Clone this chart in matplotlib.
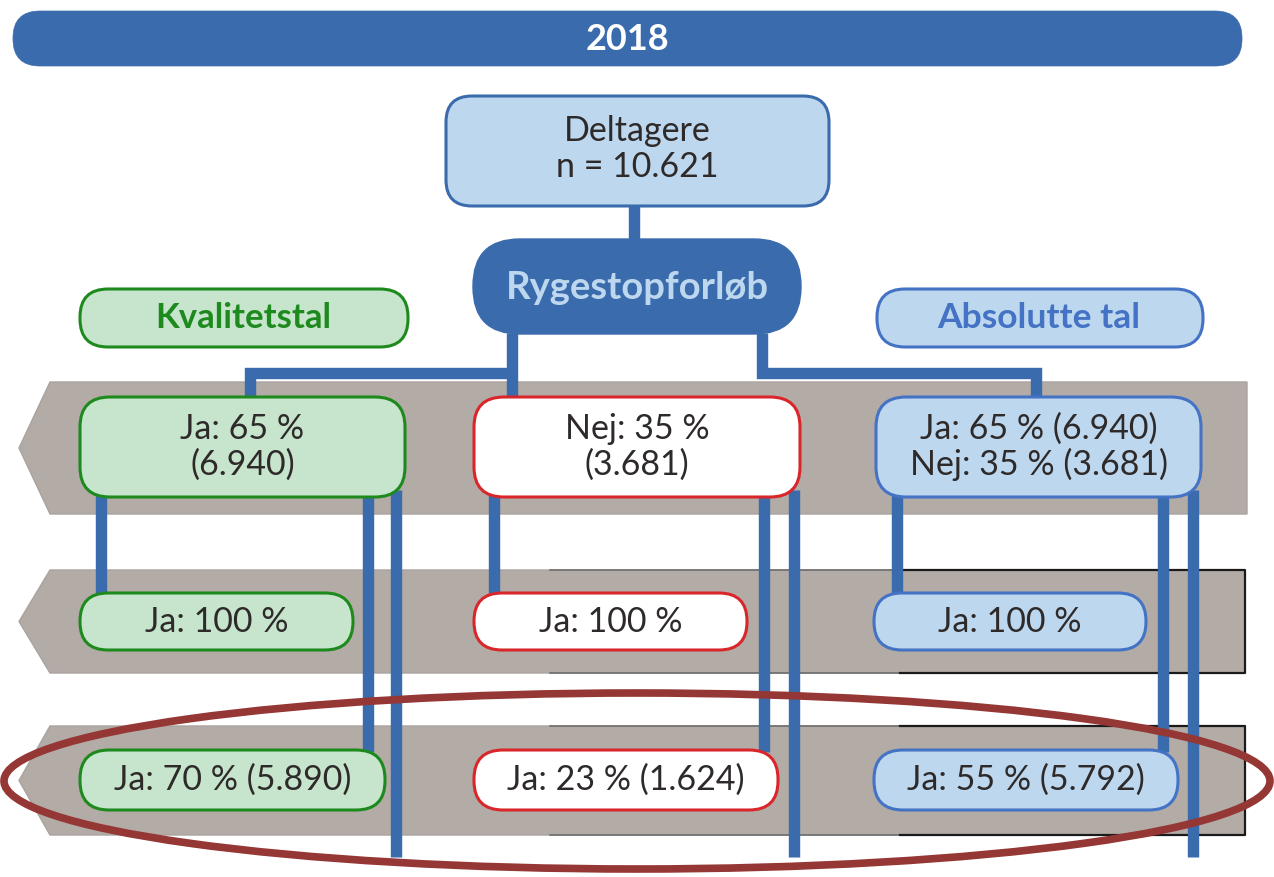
import matplotlib
matplotlib.use("Agg")
import matplotlib.pyplot as plt
from matplotlib.patches import FancyBboxPatch, Polygon, Ellipse

plt.rcParams['font.family'] = ['Lato', 'DejaVu Sans']

# ---- data / labels ----
year_label = "2018"
participants_label = "Deltagere\nn = 10.621"
course_label = "Rygestopforløb"
left_header = "Kvalitetstal"
right_header = "Absolutte tal"
row1_labels = ["Ja: 65 %\n(6.940)", "Nej: 35 %\n(3.681)", "Ja: 65 % (6.940)\nNej: 35 % (3.681)"]
row2_labels = ["Ja: 100 %", "Ja: 100 %", "Ja: 100 %"]
row3_labels = ["Ja: 70 % (5.890)", "Ja: 23 % (1.624)", "Ja: 55 % (5.792)"]

BLUE = "#3A6BAD"
LBLUE = "#BDD7EE"
GREEN_F = "#C6E5CC"
GREEN_E = "#1E8A1E"
RED_E = "#D9262B"
GRAY = "#B3ABA6"
TXT = "#2E2A2A"
ELL = "#953735"

W, H = 1274, 877
fig = plt.figure(figsize=(W / 100, H / 100), dpi=100)
ax = fig.add_axes([0, 0, 1, 1])
ax.set_xlim(0, W)
ax.set_ylim(H, 0)
ax.axis("off")

def rbox(x0, y0, x1, y1, r, fc, ec, lw=2.2, z=5):
    p = FancyBboxPatch((x0, y0), x1 - x0, y1 - y0,
                       boxstyle=f"round,pad=0,rounding_size={r}",
                       fc=fc, ec=ec, lw=lw, zorder=z)
    ax.add_patch(p)

def line(xs, ys, z=3):
    ax.plot(xs, ys, color=BLUE, lw=8.2, solid_capstyle="butt",
            solid_joinstyle="miter", zorder=z)

# banner
rbox(13, 11, 1242, 66, 27, BLUE, BLUE, lw=0.5)
ax.text(627, 40, year_label, ha="center", va="center", color="white",
        fontsize=26, fontweight="bold", zorder=6)

# gray bands
bands = [(382, 514), (570, 673), (726, 835)]
for i, (y0, y1) in enumerate(bands):
    ym = (y0 + y1) / 2
    xr = 1247 if i == 0 else 1245
    poly = Polygon([(50, y0), (xr, y0), (xr, y1), (50, y1), (19, ym)],
                   closed=True, fc=GRAY, ec="#A9A3A0", lw=1.0, zorder=1)
    ax.add_patch(poly)
    if i > 0:
        ax.plot([900, xr, xr, 900], [y0, y0, y1, y1], color="#1A1A1A",
                lw=1.6, zorder=1.5)
        ax.plot([550, 900], [y0, y0], color="#6A6A6A", lw=1.1, zorder=1.4)
        ax.plot([550, 900], [y1, y1], color="#6A6A6A", lw=1.1, zorder=1.4)

# top connectors
line([634, 634], [206, 242])
line([512, 512], [333, 398])
line([250, 250, 512], [398, 373, 373])
line([762, 762, 1036, 1036], [333, 373, 373, 398])

# vertical connectors between rows
cols = [(101, 368, 396), (494, 764, 794), (897, 1163, 1193)]
for a, b, c in cols:
    line([a, a], [495, 595])
    line([b, b], [495, 752])
    line([c, c], [490, 857])

# top boxes
rbox(446, 96, 829, 206, 26, LBLUE, BLUE, lw=2.2)
ax.text(637, 149, participants_label, ha="center", va="center", color=TXT,
        fontsize=24.5, linespacing=1.18, zorder=6)
rbox(473, 239, 801, 334, 47, BLUE, BLUE, lw=1)
ax.text(637, 288, course_label, ha="center", va="center", color=LBLUE,
        fontsize=27.5, fontweight="bold", zorder=6)
rbox(80, 289, 408, 347, 28, GREEN_F, GREEN_E, lw=2.2)
ax.text(243, 318, left_header, ha="center", va="center", color=GREEN_E,
        fontsize=25, fontweight="bold", zorder=6)
rbox(877, 289, 1203, 347, 28, LBLUE, "#4472C4", lw=2.2)
ax.text(1039, 318, right_header, ha="center", va="center", color="#4472C4",
        fontsize=25.5, fontweight="bold", zorder=6)

styles = [(GREEN_F, GREEN_E), ("white", RED_E), (LBLUE, "#4472C4")]
FS = 24.5

row1_x = [(80, 405), (474, 800), (876, 1201)]
for (x0, x1), lab, (fc, ec) in zip(row1_x, row1_labels, styles):
    rbox(x0, 397, x1, 497, 30, fc, ec)
    ax.text((x0 + x1) / 2, 447, lab, ha="center", va="center", color=TXT,
            fontsize=FS, linespacing=1.13, zorder=6)

row2_x = [(80, 353), (474, 747), (874, 1146)]
for (x0, x1), lab, (fc, ec) in zip(row2_x, row2_labels, styles):
    rbox(x0, 593, x1, 650, 28, fc, ec)
    ax.text((x0 + x1) / 2, 622, lab, ha="center", va="center", color=TXT,
            fontsize=FS, zorder=6)

row3_x = [(80, 385), (474, 778), (874, 1178)]
for (x0, x1), lab, (fc, ec) in zip(row3_x, row3_labels, styles):
    rbox(x0, 750, x1, 810, 29, fc, ec)
    ax.text((x0 + x1) / 2, 780, lab, ha="center", va="center", color=TXT,
            fontsize=FS, zorder=6)

# highlight ellipse
ax.add_patch(Ellipse((637, 781), 1266, 176, fill=False, ec=ELL, lw=5.5, zorder=8))

fig.savefig("out.png", dpi=100)
